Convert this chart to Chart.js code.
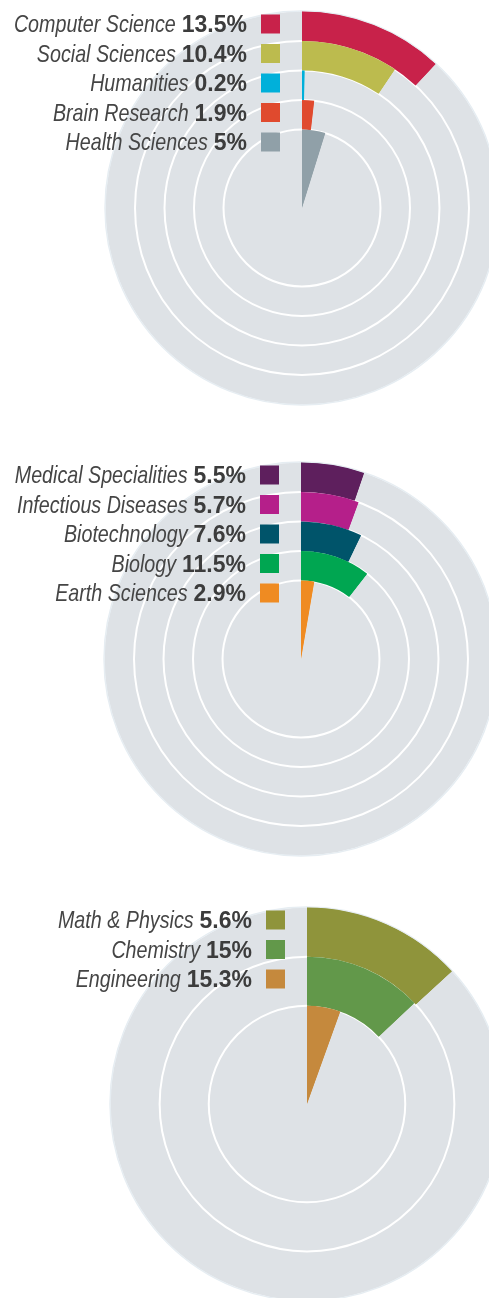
<!DOCTYPE html>
<html>
<head>
<meta charset="utf-8">
<script src="https://cdn.jsdelivr.net/npm/chart.js@4.4.1/dist/chart.umd.min.js"></script>
<style>
  html, body { margin: 0; padding: 0; width: 489px; height: 1298px; overflow: hidden; background: #fff; }
  .wheel { position: absolute; }
</style>
</head>
<body>
<canvas id="fieldsA" class="wheel" width="640" height="430"></canvas>
<canvas id="fieldsB" class="wheel" width="640" height="430"></canvas>
<canvas id="fieldsC" class="wheel" width="640" height="430"></canvas>
<script>
// DATA (arc = share of the full circle)

const namesA  = ["Computer Science", "Social Sciences", "Humanities", "Brain Research", "Health Sciences"];
const sharesA = ["13.5%", "10.4%", "0.2%", "1.9%", "5%"];
const arcsA   = [11.9, 9.4, 0.3, 1.8, 4.8];
const colorsA = ["#c8224a", "#bcbb4e", "#00b0da", "#e04a2e", "#90a0a8"];

const namesB  = ["Medical Specialities", "Infectious Diseases", "Biotechnology", "Biology", "Earth Sciences"];
const sharesB = ["5.5%", "5.7%", "7.6%", "11.5%", "2.9%"];
const arcsB   = [5.2, 5.6, 7.2, 10.5, 2.7];
const colorsB = ["#5e1f5d", "#b51f8a", "#00546a", "#00a651", "#ef8b22"];

const namesC  = ["Math & Physics", "Chemistry", "Engineering"];
const sharesC = ["5.6%", "15%", "15.3%"];
const arcsC   = [13.2, 13.0, 5.5];
const colorsC = ["#8f943b", "#62984a", "#c5893d"];

const FULL = 100;
const GREY = "#dee2e6";
const TEXT = "#3c3c3c";


// RING SEPARATORS + LEGEND

const wheelPlugin = {
    id: "wheel",
    afterDatasetsDraw(chart) {
        const ctx = chart.ctx;
        const metas = chart.data.datasets.map((d, i) => chart.getDatasetMeta(i));
        const outer = metas[0].data[0];
        ctx.save();
        ctx.strokeStyle = "#ffffff";
        ctx.lineWidth = 2;
        metas.slice(1).forEach(m => {
            ctx.beginPath();
            ctx.arc(outer.x, outer.y, m.data[0].outerRadius, 0, Math.PI * 2);
            ctx.stroke();
        });
        ctx.strokeStyle = "#e6edf2";
        ctx.lineWidth = 1.5;
        ctx.beginPath();
        ctx.arc(outer.x, outer.y, outer.outerRadius + 0.5, 0, Math.PI * 2);
        ctx.stroke();
        ctx.restore();
        // coloured arcs back on top of the separators
        metas.forEach(m => m.data[0].draw(ctx, chart.chartArea));
    },
    afterDraw(chart, args, opts) {
        const ctx = chart.ctx;
        const outer = chart.getDatasetMeta(0).data[0];
        const top = outer.y - outer.outerRadius;
        const textRight = outer.x - 55;
        ctx.save();
        ctx.textAlign = "right";
        ctx.textBaseline = "alphabetic";
        opts.names.forEach((name, i) => {
            const boxTop = top + 3 + i * 29.5;
            const base = boxTop + 17.5;
            ctx.fillStyle = opts.colors[i];
            ctx.fillRect(outer.x - 41, boxTop, 19, 19);

            ctx.fillStyle = TEXT;
            ctx.font = "bold 23px 'Liberation Sans', Arial, sans-serif";
            ctx.fillText(opts.shares[i], textRight, base);
            const w = ctx.measureText(opts.shares[i]).width;

            // condensed italic: narrow the regular face
            ctx.save();
            ctx.translate(textRight - w - 6, base);
            ctx.scale(0.82, 1);
            ctx.fillStyle = "#454545";
            ctx.font = "italic 24px 'Liberation Sans', Arial, sans-serif";
            ctx.fillText(name, 0, 0);
            ctx.restore();
        });
        ctx.restore();
    }
};


// ONE WHEEL

function drawWheel(id, cx, cy, names, shares, arcs, colors, innerWeight) {
    const canvas = document.getElementById(id);
    canvas.style.left = (cx - 320) + "px";
    canvas.style.top = (cy - 215) + "px";

    const datasets = arcs.map((a, i) => ({
        data: [a, FULL - a],
        backgroundColor: [colors[i], GREY],
        borderWidth: 0,
        weight: i === arcs.length - 1 ? innerWeight : 1
    }));

    return new Chart(canvas.getContext("2d"), {
        type: "doughnut",
        data: { labels: ["share", "rest"], datasets: datasets },
        options: {
            responsive: false,
            animation: false,
            events: [],
            radius: 196.5,
            cutout: 0,
            layout: { padding: 0 },
            plugins: {
                legend: { display: false },
                tooltip: { enabled: false },
                wheel: { names: names, shares: shares, colors: colors }
            }
        },
        plugins: [wheelPlugin]
    });
}

drawWheel("fieldsA", 302.3, 208, namesA, sharesA, arcsA, colorsA, 2.66);
drawWheel("fieldsB", 301, 658.5, namesB, sharesB, arcsB, colorsB, 2.66);
drawWheel("fieldsC", 306.5, 1104, namesC, sharesC, arcsC, colorsC, 2);
</script>
</body>
</html>
